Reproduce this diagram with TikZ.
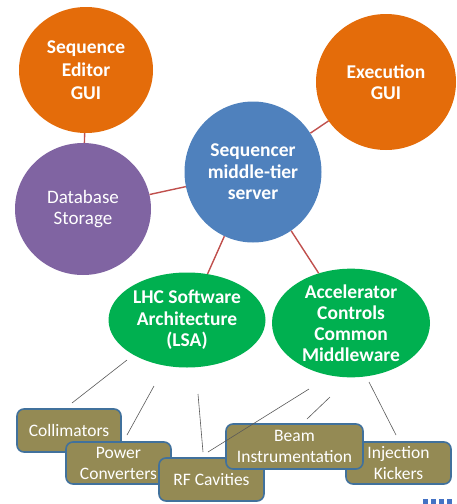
\documentclass[tikz,border=0pt]{standalone}
\usepackage{fontspec}
\setmainfont{Carlito}
\usetikzlibrary{shapes.geometric}
\definecolor{orangeC}{HTML}{E46C0A}
\definecolor{blueC}{HTML}{4F81BD}
\definecolor{purpleC}{HTML}{8064A2}
\definecolor{greenC}{HTML}{00B050}
\definecolor{oliveC}{HTML}{948A54}
\definecolor{boxborder}{HTML}{41719C}
\definecolor{linkred}{HTML}{C0504D}
\definecolor{thinline}{HTML}{595959}
\definecolor{dotblue}{HTML}{4472C4}
\begin{document}
\begin{tikzpicture}[x=1pt,y=-1pt,
  bubble/.style={ellipse,inner sep=0pt,text=white,align=center},
  boldtxt/.style={font=\fontsize{19.5}{21.5}\selectfont\bfseries},
  regtxt/.style={font=\fontsize{19}{21}\selectfont},
  item/.style={draw=boxborder,line width=1.6pt,fill=oliveC,rounded corners=7pt,
    text=white,align=center,font=\fontsize{17.5}{21}\selectfont,inner sep=0pt},
  redlink/.style={draw=linkred,line width=1.4pt},
  greylink/.style={draw=thinline,line width=0.6pt}]
\useasboundingbox (0,0) rectangle (457,504);
% circles
\node[bubble,fill=orangeC,minimum width=134pt,minimum height=126pt,
  font=\fontsize{19.5}{23}\selectfont\bfseries] (seq) at (86,70) {Sequence\\Editor\\GUI};
\node[bubble,fill=orangeC,minimum width=140pt,minimum height=136pt,
  font=\fontsize{19.5}{20.5}\selectfont\bfseries] (exe) at (386,82) {Execution\\GUI};
\node[bubble,fill=purpleC,minimum width=136pt,minimum height=132pt,
  regtxt] (db) at (83,209) {Database\\Storage};
\node[bubble,fill=blueC,minimum width=137pt,minimum height=141pt,
  boldtxt] (srv) at (253,172) {Sequencer\\middle-tier\\server};
\node[bubble,fill=greenC,minimum width=157pt,minimum height=95pt,
  boldtxt] (lsa) at (187,320) {LHC Software\\Architecture\\(LSA)};
\node[bubble,fill=greenC,minimum width=158pt,minimum height=92pt,
  font=\fontsize{19.5}{21}\selectfont\bfseries] (acc) at (351,323) {Accelerator\\Controls\\Common\\Middleware};
% red links
\draw[redlink] (seq) -- (db);
\draw[redlink] (db) -- (srv);
\draw[redlink] (srv) -- (exe);
\draw[redlink] (srv) -- (lsa);
\draw[redlink] (srv) -- (acc);
% boxes
\node[item,minimum width=104pt,minimum height=43pt] (coll) at (69,430.5) {Collimators};
\node[item,minimum width=105pt,minimum height=42pt] (pow) at (118.5,463) {Power\\Converters};
\node[item,minimum width=105pt,minimum height=43pt] (rf) at (211.5,479.5) {RF Cavities};
\node[item,minimum width=105pt,minimum height=42pt] (inj) at (398.5,463) {Injection\\Kickers};
\node[item,minimum width=137pt,minimum height=45pt] (beam) at (294.5,446.5) {Beam\\Instrumentation};
% thin connectors
\coordinate (l1a) at (127,360); \coordinate (l1b) at (72,403);
\coordinate (l2a) at (154,386); \coordinate (l2b) at (127,435);
\coordinate (l3a) at (198,394); \coordinate (l3b) at (203,452);
\coordinate (l4a) at (309,389); \coordinate (l4b) at (208,452);
\coordinate (l5a) at (330,397); \coordinate (l5b) at (307,419);
\coordinate (l6a) at (369,382); \coordinate (l6b) at (396,435);
\draw[greylink] (l1a) -- (l1b);
\draw[greylink] (l2a) -- (l2b);
\draw[greylink] (l3a) -- (l3b);
\draw[greylink] (l4a) -- (l4b);
\draw[greylink] (l5a) -- (l5b);
\draw[greylink] (l6a) -- (l6b);
% dots bottom right
\foreach \i in {0,1,2,3}
  \fill[dotblue] (423+8*\i,499) rectangle ++(5,5);
\end{tikzpicture}
\end{document}
